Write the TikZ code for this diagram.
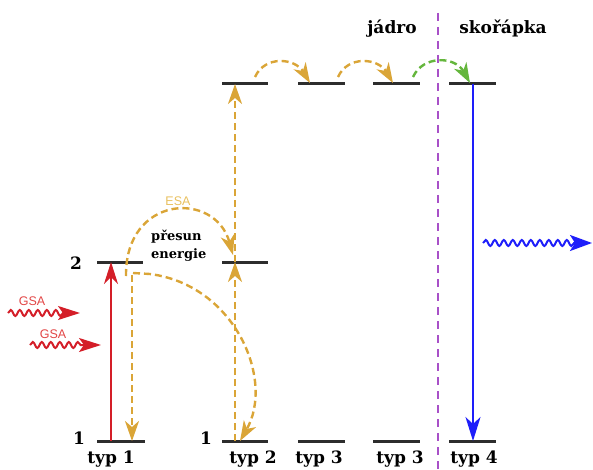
\documentclass[tikz,border=0pt]{standalone}
\usepackage{fontspec}
\setmainfont{DejaVu Serif}
\newfontfamily\sansf{Liberation Sans}
\usetikzlibrary{arrows.meta,decorations.pathmorphing}
\definecolor{gold}{RGB}{218,165,55}
\definecolor{goldlt}{RGB}{232,192,95}
\definecolor{myred}{RGB}{212,30,40}
\definecolor{redlt}{RGB}{226,70,70}
\definecolor{mygreen}{RGB}{100,182,60}
\definecolor{mypurple}{RGB}{168,80,200}
\definecolor{myblue}{RGB}{30,30,250}
\definecolor{lvl}{RGB}{45,45,45}
\tikzset{
  level/.style={draw=lvl,line width=3pt},
  gdash/.style={draw=gold,line width=2.4pt,dash pattern=on 7pt off 4pt},
  gtip/.style={-{Stealth[length=20pt,width=14pt,inset=6pt]}},
  lab/.style={font=\bfseries\fontsize{17}{19}\selectfont,text=black,inner sep=0pt},
  smlab/.style={font=\bfseries\fontsize{13}{15}\selectfont,text=black,inner sep=0pt},
  sanslab/.style={font=\sansf\fontsize{12.5}{14}\selectfont,inner sep=0pt},
  wavy/.style={decorate,decoration={snake,amplitude=3pt,segment length=9pt,post length=16pt},line width=2pt}
}
\begin{document}
\begin{tikzpicture}[x=1pt,y=-1pt]
\useasboundingbox (0,0) rectangle (593,470);
% level coordinates
\coordinate (a1l) at (97,441);  \coordinate (a1r) at (145,441);
\coordinate (a2l) at (97,262);  \coordinate (a2r) at (143,262);
\coordinate (b1l) at (222,441); \coordinate (b1r) at (268,441);
\coordinate (b2l) at (222,262); \coordinate (b2r) at (268,262);
\coordinate (b3l) at (222,84);  \coordinate (b3r) at (268,84);
\coordinate (c1l) at (298,441); \coordinate (c1r) at (345,441);
\coordinate (c3l) at (298,84);  \coordinate (c3r) at (345,84);
\coordinate (d1l) at (373,441); \coordinate (d1r) at (420,441);
\coordinate (d3l) at (373,84);  \coordinate (d3r) at (420,84);
\coordinate (e1l) at (449,441); \coordinate (e1r) at (496,441);
\coordinate (e3l) at (449,84);  \coordinate (e3r) at (496,84);
% purple divider
\coordinate (pTop) at (438,13); \coordinate (pBot) at (438,470);
\draw[mypurple,line width=2.2pt,dash pattern=on 8pt off 6pt] (pTop) -- (pBot);
% levels
\foreach \p in {a1,a2,b1,b2,b3,c1,c3,d1,d3,e1,e3} \draw[level] (\p l) -- (\p r);
% transition points
\coordinate (redB) at (111,441); \coordinate (redT) at (111,262);
\coordinate (g1s) at (132,275); \coordinate (g1e) at (132,441);
\coordinate (esaS) at (126,276); \coordinate (esaE) at (233,255);
\coordinate (trS) at (133,273); \coordinate (trM) at (150,274); \coordinate (trE) at (240,441);
\coordinate (b1x) at (235,441); \coordinate (b2x) at (235,262); \coordinate (b3x) at (235,84);
\coordinate (h1s) at (255,77); \coordinate (h1e) at (310,83);
\coordinate (h2s) at (338,77); \coordinate (h2e) at (393,83);
\coordinate (h3s) at (413,77); \coordinate (h3e) at (470,83);
\coordinate (blT) at (473,84); \coordinate (blB) at (473,441);
% red absorption
\draw[myred,line width=2pt,-{Stealth[length=22pt,width=14pt,inset=7pt]}] (redB) -- (redT);
% gold dashed
\draw[gdash,gtip] (g1s) -- (g1e);
\draw[gdash,gtip] (esaS) .. controls (125,195) and (215,190) .. (esaE);
\draw[gdash,gtip] (trS) -- (trM) .. controls (235,285) and (275,380) .. (trE);
\draw[gdash,gtip] (b1x) -- (b2x);
\draw[gdash,gtip] (b2x) -- (b3x);
\draw[gdash,gtip] (h1s) .. controls (265,55) and (295,58) .. (h1e);
\draw[gdash,gtip] (h2s) .. controls (348,55) and (378,58) .. (h2e);
\draw[gdash,draw=mygreen,gtip] (h3s) .. controls (423,55) and (455,56) .. (h3e);
% blue emission
\draw[myblue,line width=1.8pt,-{Stealth[length=24pt,width=15pt,inset=7pt]}] (blT) -- (blB);
% wavy photons
\coordinate (w1s) at (8,313);  \coordinate (w1e) at (80,313);
\coordinate (w2s) at (30,345); \coordinate (w2e) at (101,345);
\coordinate (w3s) at (483,243); \coordinate (w3e) at (592,243);
\draw[wavy,myred,-{Stealth[length=22pt,width=14pt,inset=5pt]}] (w1s) -- (w1e);
\draw[wavy,myred,-{Stealth[length=22pt,width=14pt,inset=5pt]}] (w2s) -- (w2e);
\draw[wavy,myblue,-{Stealth[length=22pt,width=16pt,inset=5pt]}] (w3s) -- (w3e);
% labels
\node[lab,anchor=base] (n2) at (76,269) {2};
\node[lab,anchor=base] (n1a) at (79,444) {1};
\node[lab,anchor=base] (n1b) at (206,444) {1};
\node[lab,anchor=base] (t1) at (111,463) {typ 1};
\node[lab,anchor=base] (t2) at (253,463) {typ 2};
\node[lab,anchor=base] (t3) at (319,463) {typ 3};
\node[lab,anchor=base] (t3b) at (400,463) {typ 3};
\node[lab,anchor=base] (t4) at (474,463) {typ 4};
\node[lab,anchor=base] (jad) at (392,34) {jádro};
\node[lab,anchor=base] (sko) at (503,34) {skořápka};
\node[smlab,anchor=base west] (pre) at (151,240) {přesun};
\node[smlab,anchor=base west] (ene) at (151,258) {energie};
\node[sanslab,text=goldlt,anchor=base] (esa) at (178,205) {ESA};
\node[sanslab,text=redlt,anchor=base] (gsa1) at (32,305) {GSA};
\node[sanslab,text=redlt,anchor=base] (gsa2) at (53,338) {GSA};
\end{tikzpicture}
\end{document}
